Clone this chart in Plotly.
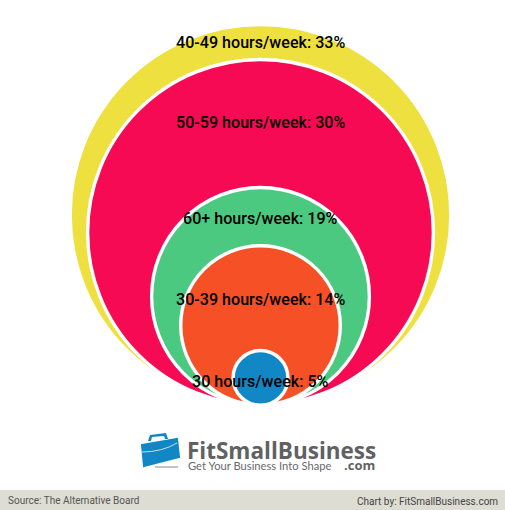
import plotly.graph_objects as go

# Survey data
categories = ['40-49 hours/week', '50-59 hours/week', '60+ hours/week', '30-39 hours/week', '30 hours/week']
shares = [33, 30, 19, 14, 5]
colors = ['#EEE03E', '#F70A54', '#4CC981', '#F65027', '#1287C6']
labels = [f'{c}: {s}%' for c, s in zip(categories, shares)]

W, H = 505, 510
PX_PER_PCT = 5.82   # outer radius in pixels per percent, white ring included
STROKE = 3.4
CX, BASE, CLIP = 260.5, 407, 404  # circles touch at BASE, the chart is cut off at CLIP


def px(x):
    return x / W


def py(y):
    return 1 - y / H


def path(points):
    return 'M ' + ' L '.join(f'{px(x):.4f},{py(y):.4f}' for x, y in points) + ' Z'


fig = go.Figure()

# radius follows the value, so y = value keeps every circle sitting on the baseline
fig.add_trace(go.Scatter(
    x=[0] * len(shares),
    y=shares,
    mode='markers',
    marker=dict(
        size=[2 * PX_PER_PCT * s - STROKE for s in shares],
        sizemode='diameter',
        color=colors,
        opacity=1,
        line=dict(color='white', width=STROKE),
    ),
    hoverinfo='text',
    text=labels,
    cliponaxis=True,
))

# label heights on the page
label_y = [42, 122, 218, 299, 381]
annotations = [
    dict(text=t, x=px(260), y=py(y), xref='paper', yref='paper', showarrow=False,
         xanchor='center', yanchor='middle',
         font=dict(family='Roboto', size=16.1, color='#000000', weight=500))
    for t, y in zip(labels, label_y)
]


def note(text, x, y, size, color, anchor='left', family='Roboto', weight=400):
    annotations.append(dict(
        text=text, x=px(x), y=py(y), xref='paper', yref='paper', showarrow=False,
        xanchor=anchor, yanchor='middle',
        font=dict(family=family, size=size, color=color, weight=weight),
    ))


# Logo text
note('FitSmallBusiness', 185, 450, 22.5, '#616163', family='Open Sans', weight=700)
note('Get Your Business Into Shape', 186, 465.5, 11.2, '#6A6A6C', family='Lato')
note('.com', 377, 464.5, 13, '#616163', anchor='right', family='Open Sans', weight=700)

# Footer
note('Source: The Alternative Board', 6, 500, 10, '#555555')
note('Chart by: FitSmallBusiness.com', 499.5, 501, 10, '#444444', anchor='right')

shapes = [
    # footer band
    dict(type='rect', xref='paper', yref='paper', x0=0, x1=1, y0=0, y1=py(490),
         fillcolor='#DEDDD3', line_width=0, layer='below'),
    # briefcase handle
    dict(type='path', xref='paper', yref='paper',
         path=path([(148, 441), (150, 435), (166, 433), (168, 439), (165, 439), (164, 436), (152, 437), (151, 441)]),
         fillcolor='#1287C6', line_width=0),
    # briefcase body
    dict(type='path', xref='paper', yref='paper',
         path=path([(142, 445), (177, 439), (179, 457), (144, 466)]),
         fillcolor='#1287C6', line=dict(color='#1287C6', width=2)),
    # briefcase flap line
    dict(type='path', xref='paper', yref='paper',
         path=f'M {px(142)},{py(452)} Q {px(162)},{py(452)} {px(177)},{py(443)}',
         fillcolor='rgba(0,0,0,0)', line=dict(color='#BFE0F2', width=1)),
    # briefcase shadow
    dict(type='line', xref='paper', yref='paper', x0=px(155), x1=px(178), y0=py(467), y1=py(467),
         line=dict(color='#B0B0B0', width=1.5)),
]

fig.update_layout(
    width=W,
    height=H,
    margin=dict(l=0, r=0, t=0, b=0),
    paper_bgcolor='white',
    plot_bgcolor='rgba(0,0,0,0)',
    showlegend=False,
    annotations=annotations,
    shapes=shapes,
    xaxis=dict(range=[-CX / PX_PER_PCT, (W - CX) / PX_PER_PCT], visible=False, fixedrange=True),
    # y = 0 sits just under the clipped edge of the plot area
    yaxis=dict(range=[(BASE - CLIP) / PX_PER_PCT, BASE / PX_PER_PCT], domain=[1 - CLIP / H, 1],
               visible=False, fixedrange=True),
)

fig.write_html("out.html", config=dict(displayModeBar=False),
               post_script="document.body.style.margin='0';")
